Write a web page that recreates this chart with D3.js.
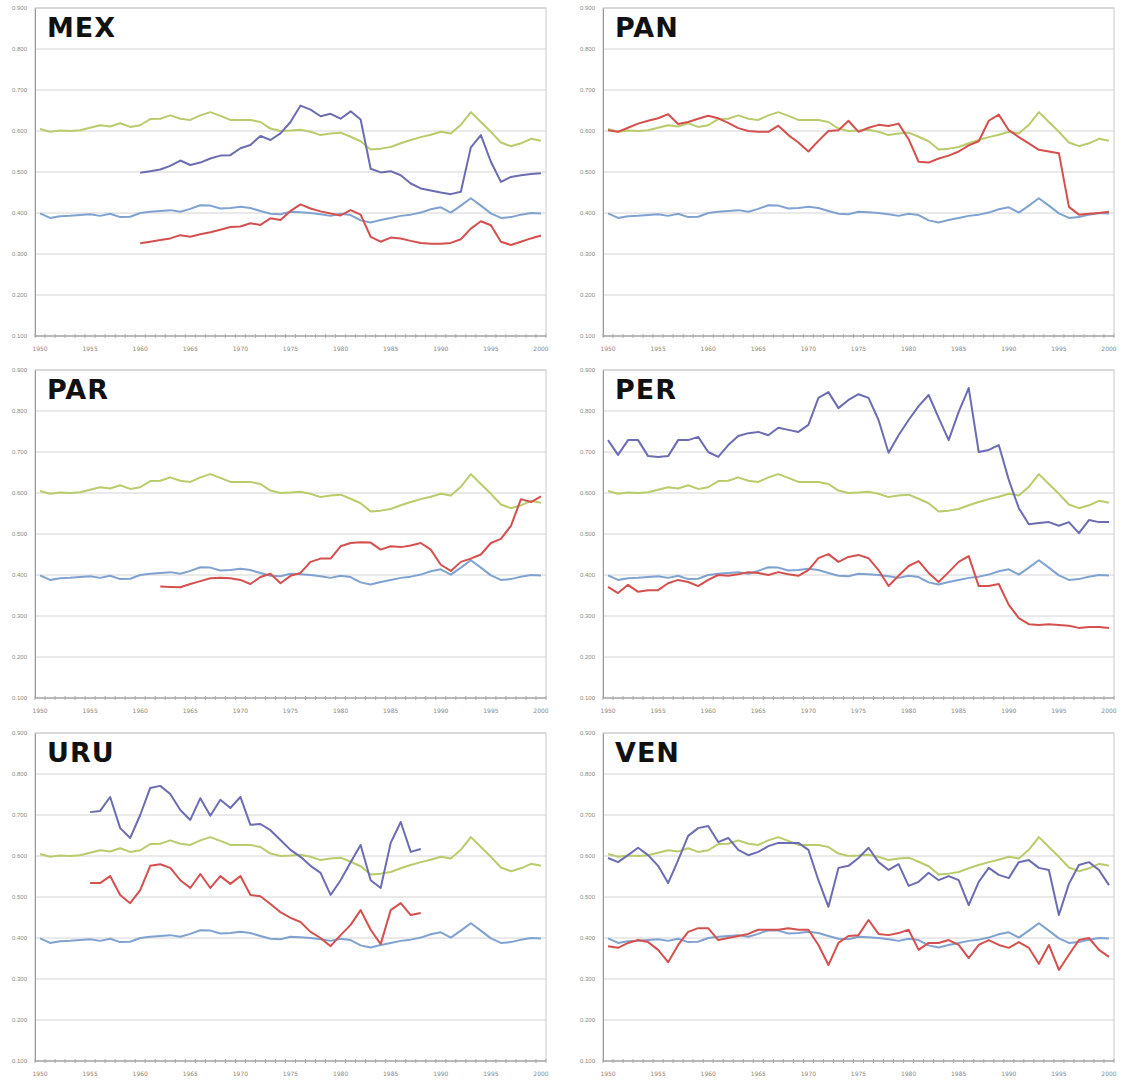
<!DOCTYPE html>
<html>
<head>
<meta charset="utf-8">
<script src="https://cdn.jsdelivr.net/npm/d3@7"></script>
<style>
  body { margin: 0; background: #fff; }
  svg { font-family: "DejaVu Sans", sans-serif; }
</style>
</head>
<body>
<div id="chart"></div>
<script>
// years on the category axis, labels every 5 years
const years = d3.range(1950, 2001)
const yTicks = [0.1, 0.2, 0.3, 0.4, 0.5, 0.6, 0.7, 0.8, 0.9]

// reference series shared by every panel (1950-2000)
const greenRef = [0.605, 0.598, 0.601, 0.600, 0.602, 0.608, 0.614, 0.611, 0.619, 0.610,
  0.614, 0.629, 0.630, 0.638, 0.630, 0.627, 0.638, 0.646, 0.637, 0.627,
  0.627, 0.627, 0.622, 0.606, 0.600, 0.601, 0.603, 0.598, 0.590, 0.594,
  0.596, 0.586, 0.575, 0.555, 0.557, 0.561, 0.570, 0.578, 0.585, 0.591,
  0.598, 0.594, 0.615, 0.646, 0.622, 0.598, 0.572, 0.563, 0.570, 0.581, 0.576]
const blueRef = [0.399, 0.388, 0.392, 0.393, 0.395, 0.397, 0.393, 0.398, 0.390, 0.391,
  0.400, 0.403, 0.405, 0.407, 0.403, 0.410, 0.419, 0.418, 0.411, 0.412,
  0.415, 0.412, 0.405, 0.398, 0.397, 0.403, 0.402, 0.400, 0.397, 0.393,
  0.398, 0.395, 0.382, 0.377, 0.383, 0.388, 0.393, 0.396, 0.401, 0.409,
  0.414, 0.401, 0.418, 0.436, 0.418, 0.399, 0.388, 0.390, 0.396, 0.400, 0.399]

// country series: first year + values
const mexStart = 1960
const mexPurple = [0.498, 0.502, 0.506, 0.515, 0.528, 0.517, 0.523, 0.533, 0.540, 0.541,
  0.558, 0.566, 0.588, 0.578, 0.594, 0.622, 0.662, 0.652, 0.636, 0.642,
  0.630, 0.648, 0.628, 0.508, 0.499, 0.502, 0.492, 0.472, 0.460, 0.455,
  0.450, 0.446, 0.452, 0.560, 0.590, 0.525, 0.476, 0.488, 0.492, 0.495, 0.497]
const mexRed = [0.326, 0.330, 0.334, 0.338, 0.346, 0.342, 0.348, 0.353, 0.359, 0.366,
  0.367, 0.375, 0.371, 0.387, 0.383, 0.405, 0.421, 0.411, 0.404, 0.399,
  0.394, 0.407, 0.396, 0.342, 0.330, 0.340, 0.338, 0.332, 0.327, 0.325,
  0.325, 0.327, 0.336, 0.362, 0.380, 0.370, 0.330, 0.322, 0.330, 0.338, 0.345]

const panStart = 1950
const panRed = [0.602, 0.598, 0.608, 0.618, 0.625, 0.631, 0.641, 0.617, 0.622, 0.630,
  0.637, 0.631, 0.620, 0.607, 0.600, 0.598, 0.598, 0.613, 0.590, 0.572,
  0.550, 0.576, 0.600, 0.602, 0.625, 0.598, 0.608, 0.615, 0.612, 0.618,
  0.580, 0.525, 0.523, 0.533, 0.540, 0.550, 0.565, 0.575, 0.625, 0.640,
  0.602, 0.585, 0.570, 0.554, 0.550, 0.546, 0.415, 0.396, 0.398, 0.400, 0.403]

const parStart = 1962
const parRed = [0.372, 0.371, 0.370, 0.378, 0.385, 0.392, 0.393, 0.392,
  0.388, 0.378, 0.395, 0.403, 0.380, 0.398, 0.405, 0.432, 0.440, 0.440,
  0.470, 0.478, 0.480, 0.479, 0.462, 0.470, 0.468, 0.472, 0.478, 0.462,
  0.425, 0.410, 0.432, 0.440, 0.450, 0.478, 0.488, 0.520, 0.585, 0.578, 0.592]

const perStart = 1950
const perPurple = [0.729, 0.693, 0.729, 0.729, 0.690, 0.688, 0.690, 0.729, 0.729, 0.737,
  0.700, 0.688, 0.717, 0.739, 0.746, 0.749, 0.741, 0.759, 0.754, 0.749,
  0.766, 0.832, 0.846, 0.807, 0.827, 0.841, 0.832, 0.778, 0.698, 0.741,
  0.778, 0.812, 0.839, 0.783, 0.729, 0.798, 0.856, 0.700, 0.705, 0.717,
  0.632, 0.563, 0.524, 0.527, 0.529, 0.520, 0.529, 0.502, 0.534, 0.529, 0.529]
const perRed = [0.371, 0.356, 0.376, 0.359, 0.363, 0.363, 0.380, 0.388, 0.383, 0.373,
  0.388, 0.400, 0.398, 0.402, 0.407, 0.405, 0.400, 0.407, 0.402, 0.398,
  0.412, 0.441, 0.451, 0.432, 0.444, 0.449, 0.441, 0.412, 0.373, 0.398,
  0.422, 0.434, 0.405, 0.383, 0.407, 0.432, 0.446, 0.373, 0.373, 0.378,
  0.327, 0.295, 0.280, 0.278, 0.280, 0.278, 0.276, 0.271, 0.273, 0.273, 0.271]

const uruStart = 1955
const uruPurple = [0.707, 0.710, 0.744, 0.668, 0.644, 0.700, 0.766, 0.771, 0.751, 0.712,
  0.688, 0.741, 0.698, 0.737, 0.717, 0.744, 0.676, 0.678, 0.663, 0.639,
  0.615, 0.598, 0.576, 0.559, 0.505, 0.541, 0.585, 0.627, 0.541, 0.522,
  0.632, 0.683, 0.610, 0.617]
const uruRed = [0.534, 0.534, 0.551, 0.505, 0.485, 0.517, 0.576, 0.580, 0.571, 0.541,
  0.522, 0.556, 0.522, 0.551, 0.532, 0.551, 0.505, 0.502, 0.483, 0.463,
  0.449, 0.439, 0.415, 0.400, 0.380, 0.407, 0.432, 0.468, 0.420, 0.385,
  0.468, 0.485, 0.456, 0.461]

const venStart = 1950
const venPurple = [0.595, 0.585, 0.602, 0.620, 0.602, 0.576, 0.534, 0.590, 0.649, 0.668,
  0.673, 0.634, 0.644, 0.615, 0.602, 0.610, 0.624, 0.632, 0.632, 0.632,
  0.615, 0.541, 0.476, 0.571, 0.576, 0.595, 0.620, 0.585, 0.566, 0.580,
  0.527, 0.537, 0.559, 0.541, 0.551, 0.541, 0.480, 0.537, 0.571, 0.554,
  0.546, 0.585, 0.590, 0.571, 0.566, 0.456, 0.532, 0.578, 0.585, 0.566, 0.529]
const venRed = [0.380, 0.376, 0.388, 0.395, 0.390, 0.371, 0.341, 0.383, 0.415, 0.424,
  0.424, 0.395, 0.400, 0.405, 0.410, 0.420, 0.420, 0.420, 0.424, 0.420,
  0.420, 0.383, 0.334, 0.388, 0.405, 0.407, 0.444, 0.410, 0.407, 0.412,
  0.420, 0.371, 0.388, 0.388, 0.395, 0.383, 0.351, 0.383, 0.395, 0.383,
  0.376, 0.390, 0.376, 0.337, 0.383, 0.322, 0.359, 0.395, 0.400, 0.371, 0.354]

const colors = { green: '#b8cc6c', blue: '#80a2d0', purple: '#6c6cb2', red: '#d4504f' }

const toPoints = (start, vals) => vals.map((v, i) => ({ year: start + i, v }))

const panels = [
  { name: 'MEX', series: [['purple', mexStart, mexPurple], ['red', mexStart, mexRed]] },
  { name: 'PAN', series: [['red', panStart, panRed]] },
  { name: 'PAR', series: [['red', parStart, parRed]] },
  { name: 'PER', series: [['purple', perStart, perPurple], ['red', perStart, perRed]] },
  { name: 'URU', series: [['purple', uruStart, uruPurple], ['red', uruStart, uruRed]] },
  { name: 'VEN', series: [['purple', venStart, venPurple], ['red', venStart, venRed]] }
]

const width = 1121, height = 1081
const colX = [35, 603]
const rowY = [8, 370, 733]
const plotW = 511, plotH = 328

const svg = d3.select('#chart').append('svg')
  .attr('width', width)
  .attr('height', height)

panels.forEach((p, idx) => {
  const left = colX[idx % 2], top = rowY[Math.floor(idx / 2)]
  const g = svg.append('g').attr('transform', `translate(${left},${top})`)

  const x = d3.scaleBand().domain(years).range([0, plotW])
  const xc = yr => x(yr) + x.bandwidth() / 2
  const y = d3.scaleLinear().domain([0.1, 0.9]).range([plotH, 0])

  // gridlines
  g.append('g')
    .selectAll('line')
    .data(yTicks)
    .join('line')
      .attr('x1', 0).attr('x2', plotW)
      .attr('y1', d => y(d)).attr('y2', d => y(d))
      .attr('stroke', '#d4d4d4')

  // plot border
  g.append('rect')
    .attr('width', plotW).attr('height', plotH)
    .attr('fill', 'none').attr('stroke', '#c8c8c8')

  // y axis labels
  g.append('g')
    .call(d3.axisLeft(y).tickValues(yTicks).tickFormat(d3.format('.3f')).tickSize(0).tickPadding(8))
    .call(a => a.select('.domain').attr('stroke', '#999'))
    .selectAll('text').attr('fill', '#888').attr('font-size', 6)

  // x axis: ticks between categories, labels every 5 years
  const xa = g.append('g').attr('transform', `translate(0,${plotH})`)
  xa.append('line').attr('x1', 0).attr('x2', plotW).attr('stroke', '#999')
  xa.selectAll('line.tk')
    .data(years.concat([2001]))
    .join('line')
      .attr('class', 'tk')
      .attr('x1', d => d === 2001 ? plotW : x(d))
      .attr('x2', d => d === 2001 ? plotW : x(d))
      .attr('y1', -2).attr('y2', 2)
      .attr('stroke', '#aaa')
  xa.selectAll('text')
    .data(years.filter(d => d % 5 === 0))
    .join('text')
      .attr('x', d => xc(d))
      .attr('y', 15)
      .attr('text-anchor', 'middle')
      .attr('font-size', 6)
      .attr('fill', '#888')
      .text(d => d)

  const line = d3.line()
    .x(d => xc(d.year))
    .y(d => y(d.v))

  const all = [['green', 1950, greenRef], ['blue', 1950, blueRef]].concat(p.series)
  all.forEach(([c, start, vals]) => {
    g.append('path')
      .datum(toPoints(start, vals))
      .attr('fill', 'none')
      .attr('stroke', colors[c])
      .attr('stroke-width', 2)
      .attr('stroke-linejoin', 'round')
      .attr('d', line)
  })

  g.append('text')
    .attr('x', 12).attr('y', 29)
    .attr('font-size', 27)
    .attr('font-weight', 'bold')
    .attr('letter-spacing', 1)
    .attr('fill', '#111')
    .text(p.name)
})
</script>
</body>
</html>
